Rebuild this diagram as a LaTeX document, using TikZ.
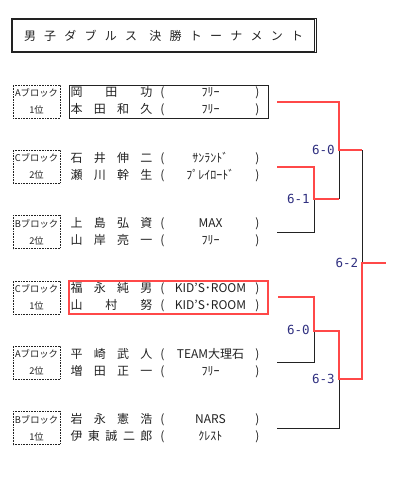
\documentclass[tikz,border=0pt]{standalone}
\usepackage{fontspec}
\setmainfont{Noto Sans CJK JP}
\newfontfamily\scorefont{DejaVu Sans Mono}
\definecolor{kuro}{HTML}{222222}
\definecolor{aka}{HTML}{FF4848}
\definecolor{kon}{HTML}{303080}
\newcommand{\teamrow}[2]{\makebox[82pt][s]{#1}\makebox[20pt]{(}\makebox[76pt]{#2}\makebox[18pt]{)}}

\begin{document}
\begin{tikzpicture}[x=1pt, y=-1pt, line width=0.8pt,
  blk/.style={draw=kuro, densely dotted, line width=0.6pt, minimum width=47pt, minimum height=33pt, inner sep=0pt, align=center, text=kuro, font=\fontsize{9.3}{17}\selectfont},
  kumi/.style={minimum width=199pt, minimum height=33pt, inner sep=0pt, align=left, text=kuro, font=\fontsize{12}{17}\selectfont},
  score/.style={inner sep=0pt, text=kon, font=\scorefont\fontsize{12.5}{12.5}\selectfont},
  win/.style={draw=aka, line width=2pt},
  lose/.style={draw=kuro, line width=0.8pt}]
  \useasboundingbox (0,0) rectangle (400,487);
  % 表題
  \node[draw=kuro, line width=0.8pt, minimum width=305pt, minimum height=34pt, inner sep=0pt, text=kuro, font=\fontsize{12}{12}\selectfont] (title) at (163.5,35.6) {\makebox[279pt][s]{男\hfill 子\hfill ダ\hfill ブ\hfill ル\hfill ス\hspace{\stretch{1.5}}決\hfill 勝\hfill ト\hfill ー\hfill ナ\hfill メ\hfill ン\hfill ト}};
  \draw[kuro, line width=0.6pt] ([shift={(2pt,-1pt)}]title.north west) rectangle ([shift={(-2.5pt,1.5pt)}]title.south east);
  % 出場ペア
  \node[blk] (b1) at (36.5,101.5) {Aブロック\\1位};
  \node[kumi, draw=kuro, line width=0.8pt] (t1) at (168.5,101.5) {\teamrow{岡\hfill 田\hfill 功}{ﾌﾘｰ}\\\teamrow{本\hfill 田\hfill 和\hfill 久}{ﾌﾘｰ}};
  \node[blk] (b2) at (36.5,166.8) {Cブロック\\2位};
  \node[kumi] (t2) at (168.5,166.8) {\teamrow{石\hfill 井\hfill 伸\hfill 二}{ｻﾝﾗﾝﾄﾞ}\\\teamrow{瀬\hfill 川\hfill 幹\hfill 生}{ﾌﾟﾚｲﾛｰﾄﾞ}};
  \node[blk] (b3) at (36.5,232.1) {Bブロック\\2位};
  \node[kumi] (t3) at (168.5,232.1) {\teamrow{上\hfill 島\hfill 弘\hfill 資}{MAX}\\\teamrow{山\hfill 岸\hfill 亮\hfill 一}{ﾌﾘｰ}};
  \node[blk] (b4) at (36.5,297.4) {Cブロック\\1位};
  \node[kumi, draw=aka, line width=2pt] (t4) at (168.5,297.4) {\teamrow{福\hfill 永\hfill 純\hfill 男}{KID'S･ROOM}\\\teamrow{山\hfill 村\hfill 努}{KID'S･ROOM}};
  \node[blk] (b5) at (36.5,362.7) {Aブロック\\2位};
  \node[kumi] (t5) at (168.5,362.7) {\teamrow{平\hfill 崎\hfill 武\hfill 人}{TEAM大理石}\\\teamrow{増\hfill 田\hfill 正\hfill 一}{ﾌﾘｰ}};
  \node[blk] (b6) at (36.5,428) {Bブロック\\1位};
  \node[kumi] (t6) at (168.5,428) {\teamrow{岩\hfill 永\hfill 憲\hfill 浩}{NARS}\\\teamrow{伊\hfill 東\hfill 誠\hfill 二\hfill 郎}{ｸﾚｽﾄ}};
  % 組合せの分岐点
  \coordinate (m1) at (314,199);
  \coordinate (m2) at (339,150);
  \coordinate (m3) at (314,331);
  \coordinate (m4) at (339,379);
  \coordinate (m5) at (362,263);
  \coordinate (yusho) at (386,263);
  % 敗者側(黒)
  \draw[lose] ([xshift=9pt]t3.east) -| (m1);
  \draw[lose] (m1 -| m2) -- (m2);
  \draw[lose] (m2 -| m5) -- (m5);
  \draw[lose] ([xshift=9pt]t5.east) -| (m3);
  \draw[lose] ([xshift=9pt]t6.east) -| (m4);
  % 勝者側(赤)
  \draw[win] ([xshift=9pt]t1.east) -| (m2) -- (m2 -| m5);
  \draw[win] ([xshift=9pt]t2.east) -| (m1) -- (m1 -| m2);
  \draw[win] ([xshift=9pt]t4.east) -| (m3) -- (m3 -| m4) -- (m4) -- (m4 -| m5) -- (m5) -- (yusho);
  % スコア
  \node[score, left=4pt] (s1) at (m1) {6-1};
  \node[score, left=4pt] (s2) at (m2) {6-0};
  \node[score, left=4pt] (s3) at ([yshift=1pt]m3) {6-0};
  \node[score, left=4pt] (s4) at (m4) {6-3};
  \node[score, left=3.5pt] (s5) at (m5) {6-2};
\end{tikzpicture}
\end{document}
